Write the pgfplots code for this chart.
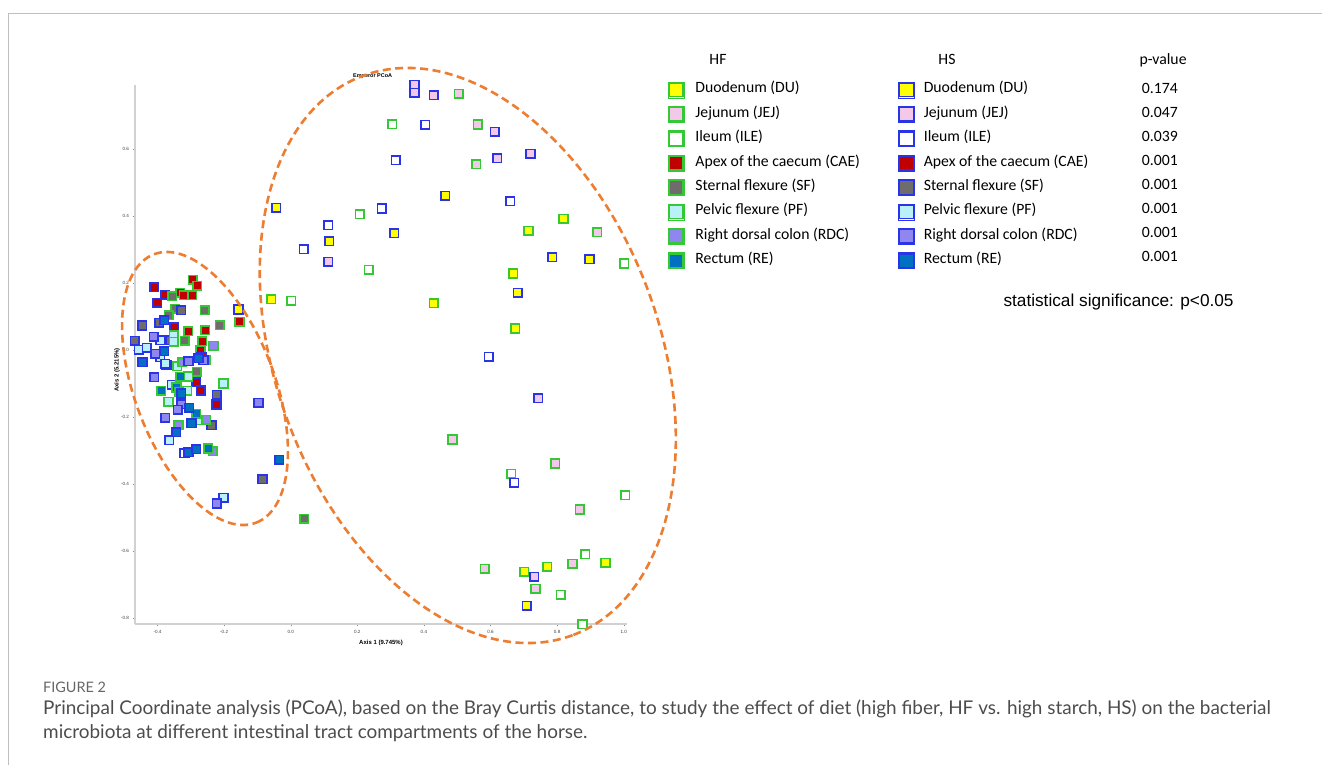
\documentclass[border=0pt]{standalone}
\usepackage{fontspec}
\usepackage{pgfplots}
\pgfplotsset{compat=1.18}
\setmainfont{Liberation Sans}
\newfontfamily\calib{Carlito}
\newfontfamily\arialf{Liberation Sans}
\newfontfamily\capf{Lato}
\definecolor{hfg}{RGB}{52,200,52}
\definecolor{hsb}{RGB}{40,52,230}
\definecolor{cdu}{RGB}{255,255,0}
\definecolor{cjej}{RGB}{243,200,232}
\definecolor{cile}{RGB}{255,255,255}
\definecolor{ccae}{RGB}{192,0,0}
\definecolor{csf}{RGB}{112,108,108}
\definecolor{cpf}{RGB}{185,240,250}
\definecolor{crdc}{RGB}{143,134,240}
\definecolor{cre}{RGB}{0,112,192}
\definecolor{ell}{RGB}{237,125,49}
\pgfplotsset{
  hf/.style={only marks, mark=square*, mark size=4.3bp, draw=hfg, mark options={draw=hfg, fill=#1, line width=1.6bp}},
  hs/.style={only marks, mark=square*, mark size=4.3bp, draw=hsb, mark options={draw=hsb, fill=#1, line width=1.6bp}},
}
\begin{document}
\begin{tikzpicture}[x=1bp,y=1bp]
\useasboundingbox (0,0) rectangle (1322,765);
\draw[black!25, line width=1bp] (8,0) -- (8,751) -- (1322,751);
\begin{axis}[
  at={(135bp,141bp)}, anchor=south west, scale only axis, width=492bp, height=539bp,
  xmin=-0.4676, xmax=1.0099, ymin=-0.8179, ymax=0.791,
  clip=false,
  axis x line*=bottom, axis y line*=left,
  axis line style={draw=black!18, line width=1.8bp},
  tick align=outside, major tick length=2.5bp,
  tick style={draw=black!45, line width=0.4bp},
  xtick={-0.4,-0.2,0,0.2,0.4,0.6,0.8,1.0},
  ytick={-0.8,-0.6,-0.4,-0.2,0,0.2,0.4,0.6},
  tick label style={font=\arialf\fontsize{4.6}{5}\selectfont, text=black!75},
  /pgf/number format/.cd, fixed, fixed zerofill, precision=1, assume math mode=true,
  /pgfplots/.cd,
  xlabel={Axis 1 (9.745\%)}, ylabel={Axis 2 (5.215\%)},
  xlabel style={at={(axis description cs:0.5,-0.0353)}, anchor=center, font=\arialf\bfseries\fontsize{6}{7}\selectfont},
  ylabel style={at={(axis description cs:-0.0366,0.471)}, anchor=center, font=\arialf\bfseries\fontsize{6}{7}\selectfont},
  title={Emperor PCoA},
  every axis title shift=0pt,
  title style={at={(axis description cs:0.483,1.0167)}, anchor=center, font=\arialf\bfseries\fontsize{5.5}{6}\selectfont},
  legend columns=2,
  legend cell align=left,
  legend image code/.code={\path (-8bp,-8bp) rectangle (8bp,8bp); \draw[#1, mark size=6.8bp, /tikz/every mark/.append style={line width=1.4bp}] plot coordinates {(0bp,0bp)};},
  legend style={at={(1.0833,1.0061)}, anchor=north west, draw=none, fill=none, inner sep=0pt, outer sep=0pt,
    row sep=8bp, column sep=0pt, font=\calib\fontsize{15.8}{18}\selectfont,
    nodes={inner sep=0pt, text height=11bp, text depth=5bp},
    /tikz/column 1/.style={column sep=11bp}, /tikz/column 3/.style={column sep=9bp}},
]
\addplot[hf=cdu] coordinates {(0.819,0.391) (0.714,0.356) (0.668,0.228) (0.430,0.140) (0.674,0.064) (-0.059,0.151) (0.945,-0.635) (0.770,-0.647) (0.701,-0.662)};
\addlegendentry{\makebox[203bp][l]{Duodenum (DU)}}
\addplot[hs=cdu] coordinates {(0.464,0.460) (0.115,0.325) (0.311,0.349) (-0.044,0.424) (0.785,0.277) (0.897,0.271) (0.682,0.171) (-0.157,0.121) (0.709,-0.764)};
\addlegendentry{Duodenum (DU)}
\addplot[hf=cjej] coordinates {(0.505,0.765) (0.562,0.673) (0.557,0.554) (0.920,0.351) (0.486,-0.267) (0.794,-0.339) (0.868,-0.476) (0.846,-0.638) (0.583,-0.653) (0.735,-0.713)};
\addlegendentry{\makebox[203bp][l]{Jejunum (JEJ)}}
\addplot[hs=cjej] coordinates {(0.372,0.791) (0.372,0.768) (0.430,0.761) (0.613,0.651) (0.620,0.573) (0.720,0.586) (0.112,0.263) (0.743,-0.144) (0.731,-0.677)};
\addlegendentry{Jejunum (JEJ)}
\addplot[hf=cile] coordinates {(0.305,0.674) (0.207,0.405) (0.235,0.239) (1.001,0.258) (0.002,0.147) (0.662,-0.369) (1.004,-0.433) (0.884,-0.609) (0.811,-0.731) (0.876,-0.819)};
\addlegendentry{\makebox[203bp][l]{Ileum (ILE)}}
\addplot[hs=cile] coordinates {(0.404,0.672) (0.315,0.567) (0.659,0.444) (0.274,0.422) (0.113,0.373) (0.039,0.301) (0.595,-0.020) (0.671,-0.397) (-0.319,-0.308)};
\addlegendentry{Ileum (ILE)}
\addplot[hf=ccae] coordinates {(-0.294,0.209) (-0.281,0.191) (-0.332,0.171) (-0.321,0.163) (-0.296,0.163) (-0.154,0.084) (-0.308,0.056) (-0.257,0.059) (-0.266,0.026) (-0.271,-0.001)};
\addlegendentry{\makebox[203bp][l]{Apex of the caecum (CAE)}}
\addplot[hs=ccae] coordinates {(-0.410,0.187) (-0.401,0.141) (-0.377,0.165) (-0.350,0.067) (-0.284,-0.096) (-0.270,-0.121) (-0.223,-0.163) (-0.268,-0.021)};
\addlegendentry{Apex of the caecum (CAE)}
\addplot[hf=csf] coordinates {(-0.356,0.161) (-0.347,0.123) (-0.258,0.119) (-0.366,0.104) (-0.213,0.074) (-0.318,0.027) (-0.282,-0.065) (0.040,-0.504)};
\addlegendentry{\makebox[203bp][l]{Sternal flexure (SF)}}
\addplot[hs=csf] coordinates {(-0.329,0.119) (-0.395,0.081) (-0.446,0.073) (-0.362,0.029) (-0.468,0.027) (-0.373,-0.044) (-0.222,-0.134) (-0.238,-0.225) (-0.085,-0.386)};
\addlegendentry{Sternal flexure (SF)}
\addplot[hf=cpf] coordinates {(-0.351,0.044) (-0.351,0.024) (-0.341,-0.049) (-0.308,-0.079) (-0.202,-0.100) (-0.311,-0.122) (-0.367,-0.155) (-0.279,-0.210)};
\addlegendentry{\makebox[203bp][l]{Pelvic flexure (PF)}}
\addplot[hs=cpf] coordinates {(-0.392,0.029) (-0.456,0.001) (-0.432,0.006) (-0.392,-0.021) (-0.377,-0.041) (-0.357,-0.104) (-0.365,-0.269) (-0.202,-0.441)};
\addlegendentry{Pelvic flexure (PF)}
\addplot[hf=crdc] coordinates {(-0.232,0.013) (-0.326,-0.037) (-0.256,-0.031) (-0.254,-0.208) (-0.337,-0.225) (-0.234,-0.302)};
\addlegendentry{\makebox[203bp][l]{Right dorsal colon (RDC)}}
\addplot[hs=crdc] coordinates {(-0.411,0.039) (-0.407,-0.011) (-0.307,-0.033) (-0.262,-0.030) (-0.410,-0.081) (-0.329,-0.162) (-0.339,-0.178) (-0.377,-0.202) (-0.097,-0.158) (-0.222,-0.458)};
\addlegendentry{Right dorsal colon (RDC)}
\addplot[hf=cre] coordinates {(-0.332,-0.080) (-0.343,-0.112) (-0.389,-0.122) (-0.335,-0.125) (-0.284,-0.190) (-0.248,-0.294)};
\addlegendentry{\makebox[203bp][l]{Rectum (RE)}}
\addplot[hs=cre] coordinates {(-0.380,0.089) (-0.380,-0.004) (-0.445,-0.037) (-0.277,-0.024) (-0.329,-0.130) (-0.305,-0.172) (-0.298,-0.219) (-0.344,-0.246) (-0.307,-0.305) (-0.284,-0.296) (-0.035,-0.328)};
\addlegendentry{Rectum (RE)}
\end{axis}
\draw[ell, line width=2.6bp, dash pattern=on 8bp off 4.5bp, rotate around={-69.2:(205,376.5)}] (205,376.5) ellipse (143.6bp and 70bp);
\draw[ell, line width=2.6bp, dash pattern=on 8bp off 4.5bp, rotate around={-69.3:(467.8,409.5)}] (467.8,409.5) ellipse (298.7bp and 191.6bp);
\begin{scope}[every node/.style={inner sep=0pt, font=\calib\fontsize{15.8}{18}\selectfont}]
\node[anchor=base] at (718,700) {HF};
\node[anchor=base] at (947,700) {HS};
\node[anchor=base west] at (1139.3,700) {p-value};
\node[anchor=base west] at (1141.7,671.8) {0.174};
\node[anchor=base west] at (1141.7,647.8) {0.047};
\node[anchor=base west] at (1141.7,623.8) {0.039};
\node[anchor=base west] at (1141.7,599.8) {0.001};
\node[anchor=base west] at (1141.7,575.8) {0.001};
\node[anchor=base west] at (1141.7,551.8) {0.001};
\node[anchor=base west] at (1141.7,527.8) {0.001};
\node[anchor=base west] at (1141.7,503.8) {0.001};
\end{scope}
\node[anchor=base west, inner sep=0pt, font=\arialf\fontsize{17.3}{20}\selectfont] at (1003.3,458.8) {statistical significance: p<0.05};
\node[anchor=base west, inner sep=0pt, font=\capf\fontsize{14.5}{17}\selectfont, text=black!60] at (43,73) {FIGURE 2};
\node[anchor=base west, inner sep=0pt, font=\capf\fontsize{19}{22}\selectfont, text=black!70] at (43,51) {Principal Coordinate analysis (PCoA), based on the Bray Curtis distance, to study the effect of diet (high fiber, HF vs. high starch, HS) on the bacterial};
\node[anchor=base west, inner sep=0pt, font=\capf\fontsize{19}{22}\selectfont, text=black!70] at (43,27) {microbiota at different intestinal tract compartments of the horse.};
\end{tikzpicture}
\end{document}
